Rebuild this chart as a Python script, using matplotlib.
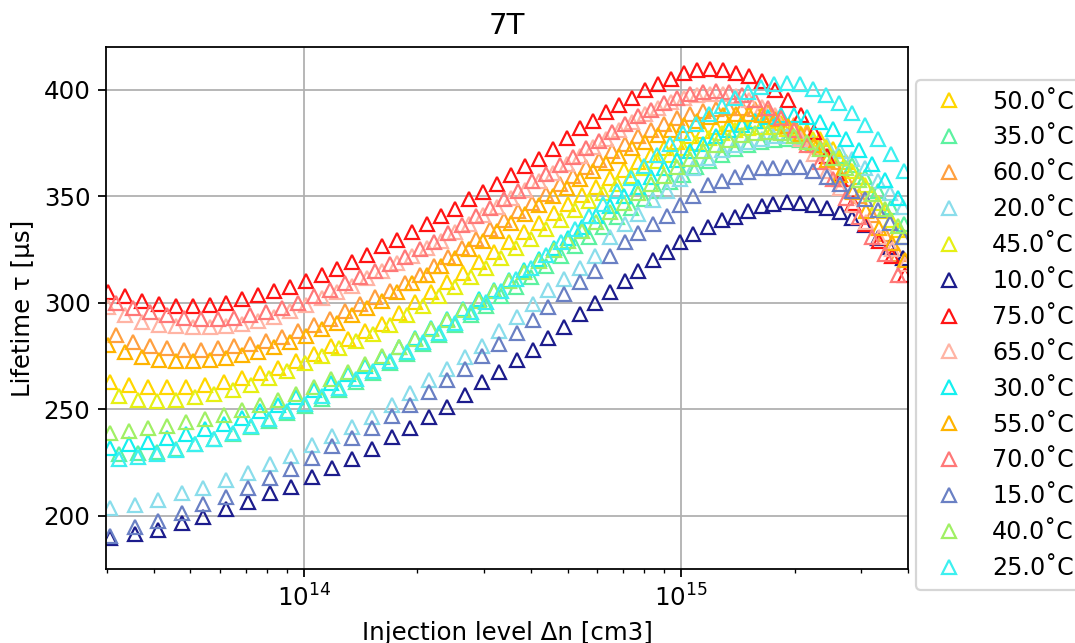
import matplotlib
matplotlib.use('Agg')
import matplotlib.pyplot as plt
import numpy as np

plt.rcParams['font.size'] = 11

# Injection levels, in units of 1e13 cm^-3 (sampling grids of the measurements)
dn_dense_a = [3.021, 3.352, 3.718, 4.125, 4.576, 5.077, 5.632, 6.210, 6.849, 7.550,
              8.325, 9.180, 10.12, 11.16, 12.23, 13.41, 14.69, 16.10, 17.65, 19.34,
              21.20, 23.09, 25.15, 27.40, 29.84, 32.51, 35.40, 38.57, 42.01, 45.76,
              49.85, 53.96, 58.42, 63.24, 68.49, 74.14, 80.27, 86.90, 94.08, 101.8,
              110.3, 119.4, 129.2, 140.0, 151.5, 164.0, 177.6, 192.3, 208.1, 225.3,
              243.9, 264.1, 285.9, 309.6, 335.2, 362.8, 392.8]
dn_dense_b = [3.171, 3.519, 3.905, 4.331, 4.805, 5.331, 5.914, 6.521, 7.190, 7.928,
              8.742, 9.640, 10.63, 11.72, 12.84, 14.08, 15.43, 16.91, 18.53, 20.31,
              22.13, 24.10, 26.25, 28.59, 31.14, 33.93, 36.96, 40.25, 43.84, 47.76,
              51.70, 55.98, 60.60, 65.61, 71.04, 76.90, 83.26, 90.13, 97.59, 105.6,
              114.4, 123.8, 134.1, 145.1, 157.2, 170.1, 184.2, 199.4, 215.9, 233.8,
              253.1, 273.9, 296.6, 321.1, 347.6, 376.4]
dn_med_a = [3.058, 3.434, 3.857, 4.331, 4.864, 5.463, 6.135, 6.849, 7.643, 8.532,
            9.523, 10.63, 11.79, 13.08, 14.51, 16.10, 17.86, 19.70, 21.72, 23.95,
            26.41, 29.12, 31.91, 34.98, 38.33, 42.01, 46.04, 50.15, 54.63, 59.50,
            64.82, 70.61, 76.90, 83.26, 90.13, 97.59, 105.6, 114.4, 123.8, 134.1,
            145.1, 157.2, 170.1, 184.2, 199.4, 215.9, 233.8, 253.1, 273.9, 296.6,
            321.1, 347.6, 376.4]
dn_med_b = [3.230, 3.628, 4.075, 4.576, 5.139, 5.771, 6.481, 7.235, 8.075, 9.013,
            10.06, 11.16, 12.38, 13.74, 15.24, 16.91, 18.76, 20.69, 22.81, 25.15,
            27.73, 30.40, 33.32, 36.51, 40.01, 43.84, 48.05, 52.34, 57.01, 62.10,
            67.65, 73.69, 79.78, 86.37, 93.50, 101.2, 109.6, 118.7, 128.5, 139.1,
            150.6, 163.0, 176.5, 191.1, 206.9, 223.9, 242.4, 262.5, 284.2, 307.7,
            333.2, 360.6, 390.4]
dn_sparse = [3.058, 3.562, 4.101, 4.747, 5.398, 6.210, 7.102, 8.124, 9.237, 10.50,
             11.86, 13.41, 15.15, 17.12, 19.11, 21.46, 23.95, 26.74, 29.66, 32.91,
             36.73, 40.50, 44.38, 48.93, 53.96, 59.14, 64.82, 71.04, 76.90, 84.28,
             91.81, 99.39, 107.6, 117.9, 128.5, 139.1, 150.6, 164.0, 175.4, 191.1,
             206.9, 223.9, 243.9, 264.1, 284.2, 307.7, 333.2, 358.4, 388.0]

# Lifetimes in microseconds
tau_75 = [305, 303, 301, 299.5, 298.5, 298.5, 299, 300, 301.5, 303.5,
          305.5, 307.5, 310, 313, 316, 319, 322.5, 326.5, 329.5, 333,
          337, 340.5, 344, 348.5, 352, 355.5, 360, 364, 367.5, 372,
          377.5, 382, 385.5, 389.5, 393, 396, 400, 402.5, 405, 408,
          409, 409.5, 409, 408, 406.5, 404, 400, 395, 388, 380,
          369, 358, 347, 337, 329, 322, 313]
tau_65 = [298, 294, 291, 289.5, 289, 288.5, 288.5, 289, 290, 291.5,
          293.5, 296, 299, 302, 305, 308, 311.5, 315, 318.5, 322,
          325.5, 329, 333, 337, 341, 345, 349, 353, 357, 361,
          365, 369, 373, 377, 381, 385, 388.5, 391.5, 394, 396,
          397.5, 398, 398, 397, 395, 392, 388, 383, 377, 370,
          362, 354, 346, 338, 331, 325, 318]
tau_55 = [280, 277, 274.5, 273, 272.5, 272.5, 273, 274, 275.5, 277,
          279, 281.5, 284.5, 287.5, 290.5, 294, 297.5, 301, 305, 309,
          313, 317, 321, 325, 329, 333.5, 337.5, 341.5, 346, 350,
          354, 358, 362, 365.5, 369, 372.5, 375.5, 378.5, 381, 383.5,
          385.5, 387, 388, 388.5, 388.5, 388, 386, 383, 379, 374,
          367, 360, 352, 343, 335, 328, 320]
tau_70 = [300, 297.5, 295.5, 294, 293, 292.5, 292.5, 293, 294, 295.5,
          297.5, 300, 303, 306, 309, 312, 315, 318, 321.5, 325,
          328.5, 332.5, 336.5, 340.5, 344.5, 348.5, 352.5, 357, 360.5, 364.5,
          368.5, 372.5, 376, 380, 384, 387.5, 390.5, 393.5, 396, 398,
          399, 399.5, 399, 397.5, 395, 391.5, 386.5, 381, 374, 366,
          358, 349, 340, 331, 323, 313]
tau_60 = [285, 281.5, 279.5, 278.5, 278, 278, 278.5, 279.5, 280.5, 282,
          284, 286.5, 289.5, 292.5, 296, 299.5, 302.5, 305.5, 309, 313,
          317, 321.5, 325.5, 330, 334.5, 339, 343, 347, 351, 355.5,
          359.5, 363.5, 367, 371, 374.5, 378, 381, 384, 386.5, 388.5,
          390, 391, 391.5, 391.5, 391, 389.5, 387, 383.5, 379, 373,
          366, 358, 350, 341, 332, 323]
tau_50 = [263, 261.5, 260.5, 260.2, 260.5, 261.5, 262.8, 264.8, 266.8, 269.5,
          272.5, 276, 279.5, 283, 286.5, 290, 295, 300.5, 305, 309.5,
          314, 319, 324, 328.5, 333, 337.5, 342, 346.5, 350.5, 354.5,
          358.5, 362.5, 366, 369.5, 372.5, 375.5, 378, 380.5, 382.5, 384,
          385, 385.5, 385.5, 384.5, 383, 380.5, 377, 372, 366, 359,
          351, 343, 334]
tau_40 = [239, 240, 241.3, 242.2, 243.8, 245.5, 247.5, 249.8, 252, 254.5,
          257.2, 260.5, 264, 267.5, 271, 275, 279, 283, 287.5, 292,
          296.5, 301, 305.5, 310, 314.5, 319.5, 324.5, 329, 333.5, 338,
          342.5, 347, 351.5, 355.5, 359.5, 363.5, 367.5, 371, 374, 376.5,
          378.5, 379.5, 380, 379.5, 378, 375.5, 372, 368, 363, 357.5,
          351, 344, 336]
tau_30 = [232, 233.5, 234.8, 236.5, 238.5, 240.8, 243.2, 246, 249, 252,
          255.5, 259, 262.5, 266.5, 270.5, 274.5, 279, 283.5, 288, 292.5,
          297, 301.5, 306, 310.5, 315.5, 320.5, 325.5, 330.5, 335.5, 340.5,
          345.5, 350, 354.5, 359, 363, 367, 371, 374.5, 378, 381,
          383.5, 385.5, 387, 388, 388, 387, 385, 381.5, 377, 371.5,
          365, 357.5, 349]
tau_45 = [256, 254.5, 254, 254.5, 255.5, 257, 259, 261.5, 264.5, 268,
          271.5, 275, 278.5, 282, 285.5, 289.5, 294, 298.5, 303, 307.5,
          312, 316.5, 321, 325.5, 330, 334.5, 339, 343.5, 347.5, 351.5,
          355.5, 359.5, 363, 366.5, 369.5, 372.5, 375, 377.5, 379.5, 381,
          382, 382.5, 382.5, 381.5, 379.5, 377, 373, 368, 362, 355,
          347, 339, 331]
tau_35 = [229, 229.5, 230, 231.5, 233.5, 236, 238.5, 241.5, 244.5, 248,
          251.5, 255, 259, 263, 267, 271.5, 276, 280.5, 285, 289.5,
          294, 298.5, 303, 307.5, 312, 317, 322, 326.5, 331, 335.5,
          340, 344.5, 348.5, 352.5, 356.5, 360, 363.5, 366.5, 369.5, 372,
          374, 375.5, 376.5, 377, 376.5, 375, 372.5, 369, 364.5, 359,
          352.5, 345, 337]
tau_25 = [226.5, 227.5, 229, 231, 233.5, 236, 239, 242, 245.5, 249,
          252.5, 256, 260, 264, 268, 272.5, 277, 281.5, 286, 290.5,
          295.5, 300.5, 305.5, 311, 316.5, 322.5, 328.5, 334.5, 340.5, 346.5,
          352.5, 358.5, 364, 369.5, 374.5, 379.5, 384, 388.5, 392.5, 396,
          399, 401, 402.5, 403, 402.5, 400.5, 397.5, 393.5, 389, 383.5,
          377, 370, 362]
tau_10 = [189.7, 191.5, 193.4, 196.7, 199.5, 203.3, 206.6, 210.8, 213.6, 218.3,
          222.5, 226.8, 231.5, 237.1, 241.3, 246.5, 251.2, 256.8, 262.9, 267.6,
          273.2, 277.9, 283.6, 288.5, 294.8, 300, 305.2, 310.3, 315, 320.2,
          323.9, 328.6, 332.4, 335.7, 339, 340.4, 343.2, 345.5, 346.5, 347.4,
          347, 346, 344.6, 342.7, 339.9, 336.6, 330.5, 326.3, 321]
tau_15 = [190.5, 194.5, 197.5, 201.4, 205.5, 208.7, 212.8, 217.8, 222, 227,
          232.5, 236.5, 241.2, 247, 252, 258, 263.8, 268.7, 275, 280.8,
          286, 291.8, 298, 304, 309.5, 314.8, 322, 328.5, 332.8, 336.8,
          340.8, 346, 350, 355, 357.2, 359.2, 361.5, 363, 363.4, 363.6,
          363.6, 362, 358.8, 355.8, 352.2, 348.5, 343.5, 337.5, 331]
tau_20 = [203.8, 205.2, 207.5, 210.8, 213.1, 216.9, 220.1, 224.5, 228, 233.3,
          237.5, 241.5, 246.5, 252, 257.5, 263.5, 268.8, 274.5, 279.8, 286.5,
          293.3, 299.5, 306, 311, 316.5, 322, 330.8, 337, 341.8, 348,
          352.5, 358.2, 363.2, 368, 371.5, 373.8, 375.4, 377, 378, 378,
          377.5, 376, 374, 371, 367.5, 363, 357, 351.5, 345]

labels = ['50.0˚C', '35.0˚C', '60.0˚C', '20.0˚C', '45.0˚C', '10.0˚C', '75.0˚C',
          '65.0˚C', '30.0˚C', '55.0˚C', '70.0˚C', '15.0˚C', '40.0˚C', '25.0˚C']
colors = ['#FFD700', '#5CF2A0', '#FFA040', '#8ADDEB', '#E6F014', '#1C1C8C', '#FF1414',
          '#FFB4A4', '#14F0F0', '#FFB400', '#FF7878', '#6A80C4', '#A0F064', '#3CF0F0']
xs = [dn_med_a, dn_med_b, dn_dense_b, dn_sparse, dn_med_b, dn_sparse, dn_dense_a,
      dn_dense_a, dn_med_a, dn_dense_a, dn_dense_b, dn_sparse, dn_med_a, dn_med_b]
ys = [tau_50, tau_35, tau_60, tau_20, tau_45, tau_10, tau_75,
      tau_65, tau_30, tau_55, tau_70, tau_15, tau_40, tau_25]

fig = plt.figure(figsize=(1075 / 160, 643 / 160), dpi=160)
ax = fig.add_axes([106 / 1075, 74 / 643, 802 / 1075, 522 / 643])

for x, y, c, lab in zip(xs, ys, colors, labels):
    n = min(len(x), len(y))
    ax.plot(np.array(x[:n]) * 1e13, y[:n], linestyle='none', marker='^',
            markersize=6, markerfacecolor='none', markeredgecolor=c,
            markeredgewidth=1.0, label=lab)

ax.set_xscale('log')
ax.set_xlim(2.985e13, 4.0e15)
ax.set_ylim(175, 420)
ax.set_yticks([200, 250, 300, 350, 400])
ax.grid(True, which='major', color='#b0b0b0', linewidth=0.8)
ax.set_axisbelow(True)
ax.set_title('7T')
ax.set_xlabel('Injection level Δn [cm3]')
ax.set_ylabel('Lifetime τ [µs]')

fig.legend(loc='upper left', bbox_to_anchor=(916 / 1075, 1 - 80 / 643),
           bbox_transform=fig.transFigure, borderaxespad=0, fontsize=10.7)

fig.savefig('out.png', dpi=160)
